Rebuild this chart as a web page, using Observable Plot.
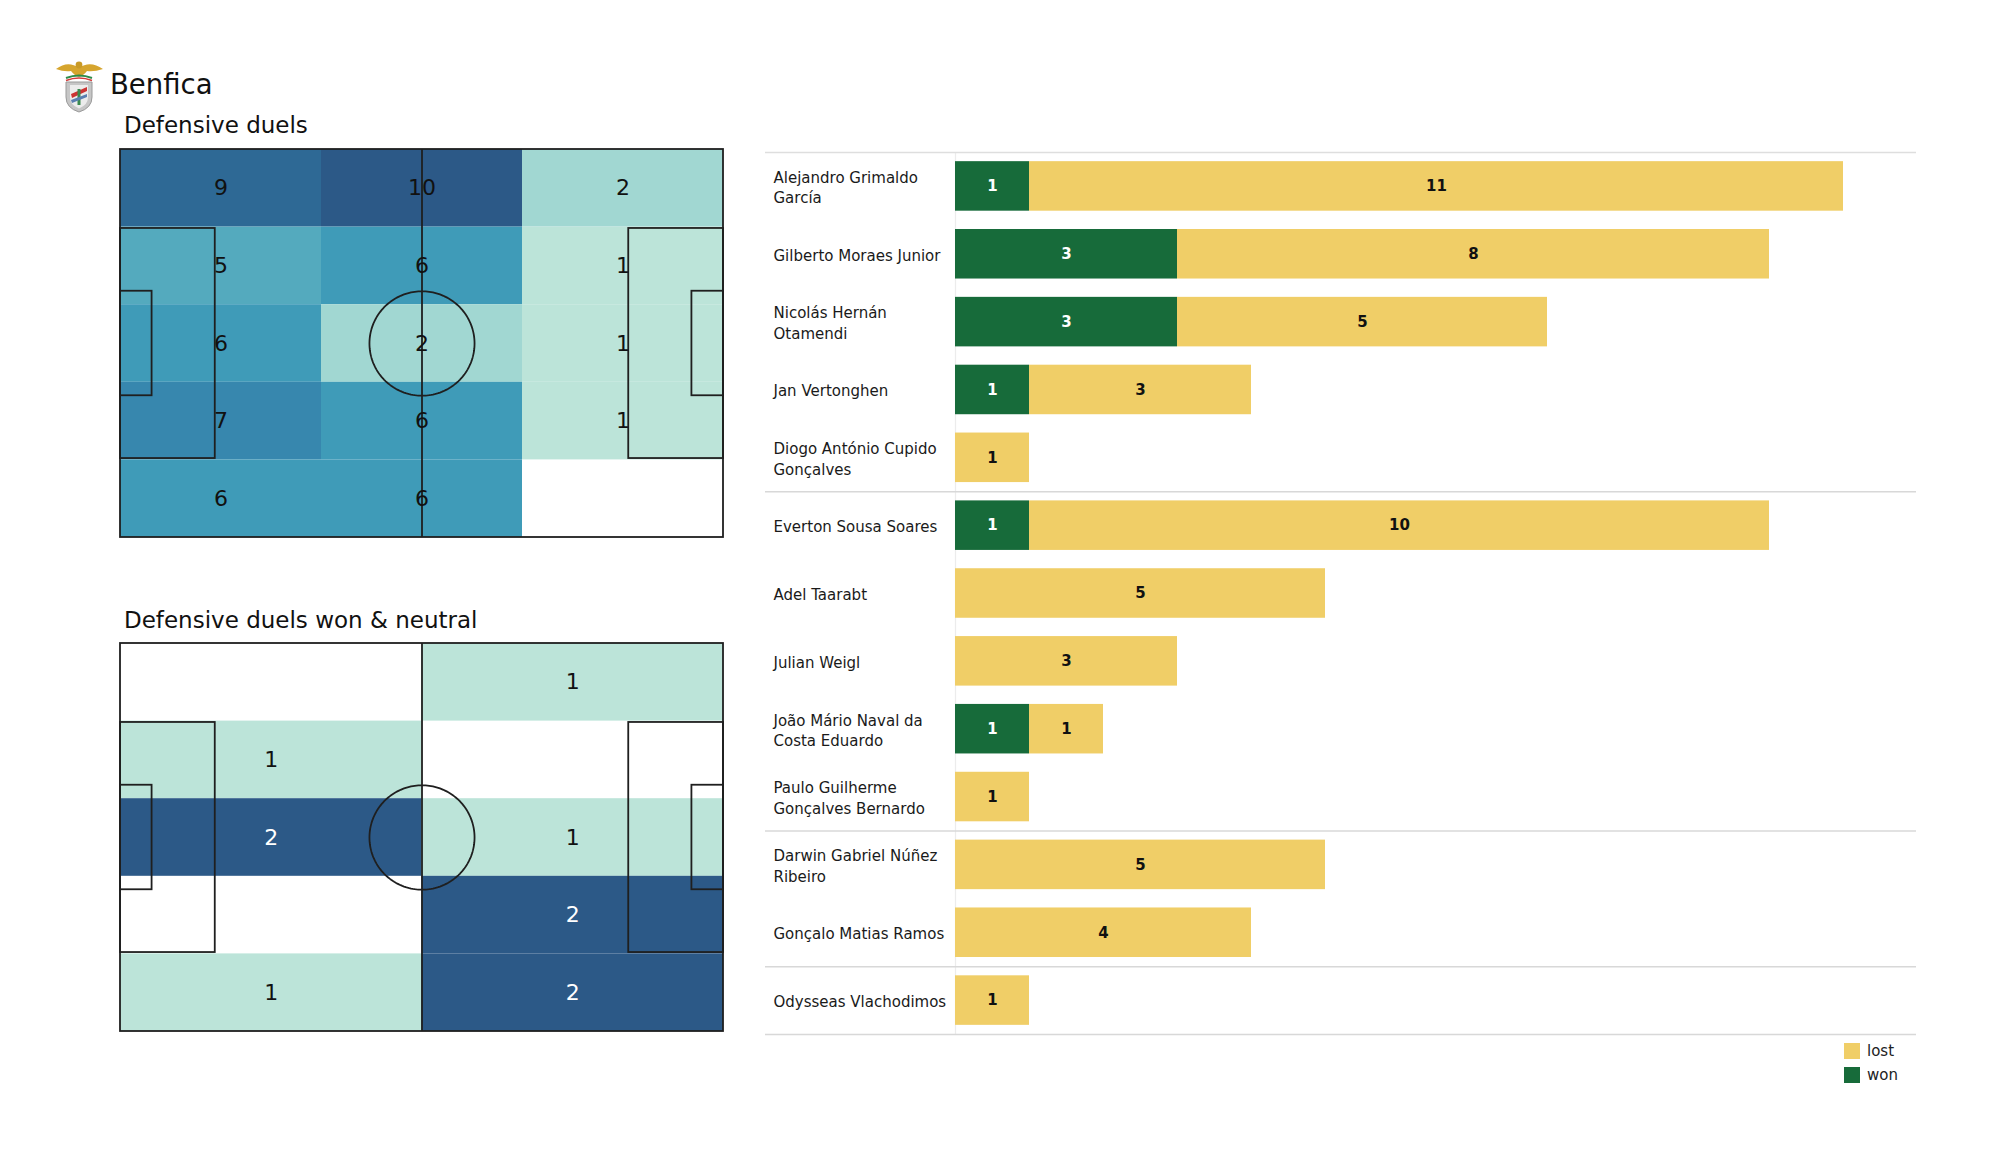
<!DOCTYPE html>
<html>
<head>
<meta charset="utf-8">
<script src="https://cdn.jsdelivr.net/npm/d3@7"></script>
<script src="https://cdn.jsdelivr.net/npm/@observablehq/plot@0.6"></script>
<style>
  html, body { margin: 0; padding: 0; background: #fff; }
  body { font-family: "DejaVu Sans", sans-serif; color: #111; }
  #page { position: relative; width: 2000px; height: 1175px; overflow: hidden; background: #fff; }
  .abs { position: absolute; }
  .title { font-size: 27.5px; line-height: 1; white-space: nowrap; }
  .sub { font-size: 23px; line-height: 1; white-space: nowrap; }
  .leg { font-size: 15px; color: #222; display: flex; align-items: center; height: 16px; }
  .sw { width: 16px; height: 16px; margin-right: 7px; }
</style>
</head>
<body>
<div id="page">
  <svg class="abs" style="left:54px;top:58px" width="52" height="56" viewBox="54 58 52 56">
    <path d="M56,69 Q68,60 79,68 Q90,60 103,69 Q94,72 87,71 Q83,76 79,77 Q75,76 71,71 Q64,72 56,69 Z" fill="#d6a52e"/>
    <circle cx="79" cy="65" r="3.4" fill="#c99a26"/>
    <path d="M66,78 Q79,73 92,78" fill="none" stroke="#2e8b4a" stroke-width="2"/>
    <path d="M66,80.5 Q79,75.5 92,80.5" fill="none" stroke="#d33a3a" stroke-width="1.6"/>
    <path d="M66,82 L92,82 L92,97 Q92,108 79,112 Q66,108 66,97 Z" fill="#c6c6c6" stroke="#9a9a9a" stroke-width="1"/>
    <path d="M70,85 L88,85 L88,97 Q88,105 79,108.5 Q70,105 70,97 Z" fill="#ececec"/>
    <path d="M71,94 L87,87 L87,91 L72,98 Z" fill="#cc3333"/>
    <path d="M77.5,89 L80.5,89 L80.5,105 L77.5,105 Z" fill="#3a8a4f"/>
    <path d="M71,100 L87,94 L87,97 L72,103 Z" fill="#5a7fb0"/>
  </svg>
  <div class="abs title" id="team" style="left:110px;top:71px"></div>
  <div class="abs sub" id="t1" style="left:124px;top:114px"></div>
  <div class="abs sub" id="t2" style="left:124px;top:609px"></div>
  <div class="abs" id="heat1" style="left:115px;top:145px"></div>
  <div class="abs" id="heat2" style="left:115px;top:639px"></div>
  <div class="abs" id="bars" style="left:765px;top:150px"></div>
  <div class="abs" id="legend" style="left:1844px;top:1043px"></div>
</div>
<script>
// ---------------- data ----------------
const teamName = "Benfica";
const heatTitle1 = "Defensive duels";
const heatTitle2 = "Defensive duels won & neutral";

// zone counts, rows top -> bottom, columns left -> right (0 = no duels)
const defensiveDuels = [
  [9, 10, 2],
  [5, 6, 1],
  [6, 2, 1],
  [7, 6, 1],
  [6, 6, 0]
];
const defensiveDuelsWon = [
  [0, 1],
  [1, 0],
  [2, 1],
  [0, 2],
  [1, 2]
];

const players = [
  "Alejandro Grimaldo García",
  "Gilberto Moraes Junior",
  "Nicolás Hernán Otamendi",
  "Jan Vertonghen",
  "Diogo António Cupido Gonçalves",
  "Everton Sousa Soares",
  "Adel Taarabt",
  "Julian Weigl",
  "João Mário Naval da Costa Eduardo",
  "Paulo Guilherme Gonçalves Bernardo",
  "Darwin Gabriel Núñez Ribeiro",
  "Gonçalo Matias Ramos",
  "Odysseas Vlachodimos"
];
const duelsWonByPlayer  = [1, 3, 3, 1, 0, 1, 0, 0, 1, 0, 0, 0, 0];
const duelsLostByPlayer = [11, 8, 5, 3, 1, 10, 5, 3, 1, 1, 5, 4, 1];
// last player of each position group (defenders, midfielders, forwards, goalkeeper)
const groupEnds = ["Diogo António Cupido Gonçalves", "Paulo Guilherme Gonçalves Bernardo", "Gonçalo Matias Ramos", "Odysseas Vlachodimos"];
const resultKeys = ["won", "lost"];
const legendKeys = ["lost", "won"];

// ---------------- styles ----------------
const FONT = "DejaVu Sans";
const GREEN = "#176b3a", YELLOW = "#f0ce67";
const LINE = "#1f1f1f";
const heatStops = [0, 0.111, 0.444, 0.556, 0.667, 0.889, 1];
const heatColors = ["#bce4d9", "#a1d7d2", "#54aabe", "#3f9bb8", "#3787ae", "#2e6995", "#2c5987"];
const heatInterp = d3.scaleLinear().domain(heatStops).range(heatColors).interpolate(d3.interpolateRgb).clamp(true);

// pitch geometry (metres)
const PL = 105, PW = 68;
const pitchBoxes = [
  [0, 0, PL, PW],
  [0, 13.84, 16.5, 54.16], [PL - 16.5, 13.84, PL, 54.16],
  [0, 24.84, 5.5, 43.16], [PL - 5.5, 24.84, PL, 43.16]
];
const circlePts = d3.range(0, 361, 2).map(a => ({x: PL / 2 + 9.15 * Math.cos(a * Math.PI / 180), y: PW / 2 + 9.15 * Math.sin(a * Math.PI / 180)}));

document.getElementById("team").textContent = teamName;
document.getElementById("t1").textContent = heatTitle1;
document.getElementById("t2").textContent = heatTitle2;

function pitchHeat(matrix, whiteOnMax) {
  const nr = matrix.length, nc = matrix[0].length;
  const cells = [];
  matrix.forEach((row, r) => row.forEach((v, c) => {
    if (v > 0) cells.push({x1: c * PL / nc, x2: (c + 1) * PL / nc, y1: r * PW / nr, y2: (r + 1) * PW / nr, v});
  }));
  const lo = d3.min(cells, d => d.v), hi = d3.max(cells, d => d.v);
  return Plot.plot({
    width: 613, height: 396,
    marginLeft: 5, marginRight: 5, marginTop: 4, marginBottom: 4,
    style: {fontFamily: FONT, background: "transparent"},
    x: {domain: [0, PL], axis: null},
    y: {domain: [0, PW], axis: null, reverse: true},
    color: {type: "linear", domain: [lo, hi], interpolate: heatInterp},
    marks: [
      Plot.rect(cells, {x1: "x1", x2: "x2", y1: "y1", y2: "y2", fill: "v"}),
      Plot.rect(pitchBoxes, {x1: d => d[0], y1: d => d[1], x2: d => d[2], y2: d => d[3], fill: "none", stroke: LINE, strokeWidth: 1.8}),
      Plot.ruleX([PL / 2], {stroke: LINE, strokeWidth: 1.8}),
      Plot.line(circlePts, {x: "x", y: "y", stroke: LINE, strokeWidth: 1.8}),
      Plot.text(cells, {
        x: d => (d.x1 + d.x2) / 2, y: d => (d.y1 + d.y2) / 2, text: "v",
        fontSize: 22,
        fill: whiteOnMax ? (d => d.v === hi ? "white" : "#111") : "#111"
      })
    ]
  });
}

document.getElementById("heat1").appendChild(pitchHeat(defensiveDuels, false));
document.getElementById("heat2").appendChild(pitchHeat(defensiveDuelsWon, true));

// ---------------- bar chart ----------------
function wrapName(s, w = 22) {
  const lines = []; let cur = "";
  for (const wd of s.split(" ")) {
    if (cur && (cur + " " + wd).length > w) { lines.push(cur); cur = wd; }
    else cur = cur ? cur + " " + wd : wd;
  }
  lines.push(cur);
  return lines.join("\n");
}

const tidy = [];
players.forEach((p, i) => {
  if (duelsWonByPlayer[i] > 0) tidy.push({player: p, result: "won", value: duelsWonByPlayer[i]});
  if (duelsLostByPlayer[i] > 0) tidy.push({player: p, result: "lost", value: duelsLostByPlayer[i]});
});

const BW = 1151, BH = 886, MT = 2, MB = 2;
const axisOffset = 190, unitPx = 74;
const step = (BH - MT - MB) / players.length;

const bars = Plot.plot({
  width: BW, height: BH,
  marginLeft: 0, marginRight: 0, marginTop: MT, marginBottom: MB,
  style: {fontFamily: FONT, background: "transparent"},
  x: {domain: [-axisOffset / unitPx, (BW - axisOffset) / unitPx], axis: null},
  y: {domain: players, axis: null, paddingInner: 0.27, paddingOuter: 0.135, round: false},
  color: {domain: resultKeys, range: [GREEN, YELLOW]},
  marks: [
    Plot.ruleX([0], {stroke: "#ececec", strokeWidth: 1.2}),
    Plot.ruleY([players[0]], {dy: -step / 2, stroke: "#dedede", strokeWidth: 1.5}),
    Plot.ruleY(groupEnds, {dy: step / 2, stroke: "#d8d8d8", strokeWidth: 1.5}),
    Plot.barX(tidy, {x: "value", y: "player", fill: "result", order: resultKeys}),
    Plot.text(tidy, Plot.stackX({
      x: "value", y: "player", z: "result", order: resultKeys,
      text: d => d.result === "won" ? d.value : null,
      fill: "white", fontWeight: "bold", fontSize: 15
    })),
    Plot.text(tidy, Plot.stackX({
      x: "value", y: "player", z: "result", order: resultKeys,
      text: d => d.result === "lost" ? d.value : null,
      fill: "#111", fontWeight: "bold", fontSize: 15
    })),
    Plot.text(players, {
      y: d => d, text: d => wrapName(d),
      frameAnchor: "left", textAnchor: "start", dx: 8,
      fontSize: 15, lineHeight: 1.36, fill: "#1a1a1a"
    })
  ]
});
document.getElementById("bars").appendChild(bars);

// ---------------- legend ----------------
const legendColor = {won: GREEN, lost: YELLOW};
const leg = document.getElementById("legend");
legendKeys.forEach((k, i) => {
  const row = document.createElement("div");
  row.className = "leg";
  row.style.marginBottom = i === 0 ? "8px" : "0";
  const sw = document.createElement("div");
  sw.className = "sw";
  sw.style.background = legendColor[k];
  const t = document.createElement("span");
  t.textContent = k;
  row.appendChild(sw); row.appendChild(t);
  leg.appendChild(row);
});
</script>
</body>
</html>
